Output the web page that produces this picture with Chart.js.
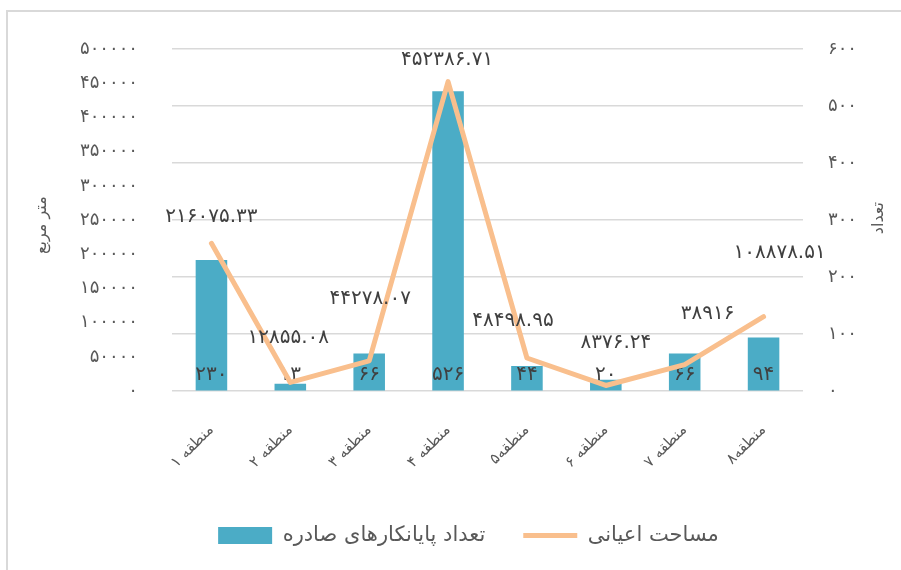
<!DOCTYPE html>
<html>
<head>
<meta charset="utf-8">
<script src="https://cdn.jsdelivr.net/npm/chart.js@4/dist/chart.umd.min.js"></script>
<style>
  html, body { margin: 0; padding: 0; background: #fff; overflow: hidden; }
  #wrap { position: absolute; left: 0; top: 0; width: 901px; height: 570px; }
</style>
</head>
<body>
<div id="wrap"><canvas id="c" width="901" height="570"></canvas></div>
<script>
// Regions
const regions = ['منطقه ۱', 'منطقه ۲', 'منطقه ۳', 'منطقه ۴', 'منطقه۵', 'منطقه ۶', 'منطقه ۷', 'منطقه۸'];
// Issued completion certificates (count, right axis)
const certificateCounts = [230, 13, 66, 526, 44, 20, 66, 94];
// Building area in square metres (left axis)
const buildingArea = [216075.33, 12855.08, 44278.07, 452386.71, 48498.95, 8376.24, 38916, 108878.51];

const seriesNames = ['تعداد پایانکارهای صادره', 'مساحت اعیانی'];
const leftAxisTitle = 'متر مربع';
const rightAxisTitle = 'تعداد';

// Nudges for the area labels, relative to each line vertex (dx, dy in px)
const areaLabelShift = [[0, -27], [-2, -45], [1, -62], [-1, -22], [-14, -37], [10, -43], [23, -51], [16, -64]];

const FONT = "'DejaVu Sans', sans-serif";
const faDigits = s => String(s).replace(/\d/g, d => '۰۱۲۳۴۵۶۷۸۹'[d]);

Chart.defaults.font.family = FONT;
Chart.defaults.color = '#595959';

const framePlugin = {
  id: 'frame',
  beforeDraw(chart) {
    const ctx = chart.ctx;
    ctx.save();
    ctx.fillStyle = '#ffffff';
    ctx.fillRect(0, 0, chart.width, chart.height);
    ctx.strokeStyle = '#d9d9d9';
    ctx.lineWidth = 2;
    ctx.strokeRect(7, 11, chart.width + 20, chart.height + 20);
    ctx.restore();
  }
};

// Legend row sits a little right of the canvas centre
const legendShiftPlugin = {
  id: 'legendShift',
  afterLayout(chart) {
    const lg = chart.legend;
    if (!lg) return;
    lg.left += 18;
    lg.right += 18;
    (lg.legendHitBoxes || []).forEach(b => { b.left += 18; });
  }
};

const axisTitlePlugin = {
  id: 'axisTitles',
  afterDraw(chart) {
    const ctx = chart.ctx;
    const mid = (chart.chartArea.top + chart.chartArea.bottom) / 2;
    ctx.save();
    ctx.fillStyle = '#595959';
    ctx.font = '16px ' + FONT;
    ctx.textAlign = 'center';
    ctx.textBaseline = 'middle';
    [[leftAxisTitle, 42, mid + 5], [rightAxisTitle, 879, mid - 2]].forEach(([t, x, y]) => {
      ctx.save();
      ctx.translate(x, y);
      ctx.rotate(-Math.PI / 2);
      ctx.fillText(t, 0, 0);
      ctx.restore();
    });
    ctx.restore();
  }
};

const valueLabelPlugin = {
  id: 'valueLabels',
  afterDatasetDraw(chart, args) {
    if (args.index !== 0) return;
    const ctx = chart.ctx;
    const meta = chart.getDatasetMeta(0);
    ctx.save();
    ctx.fillStyle = '#404040';
    ctx.font = '20px ' + FONT;
    ctx.textAlign = 'center';
    ctx.textBaseline = 'middle';
    meta.data.forEach((bar, i) => {
      ctx.fillText(faDigits(certificateCounts[i]), bar.x, chart.chartArea.bottom - 16);
    });
    ctx.restore();
  },
  afterDatasetsDraw(chart) {
    const ctx = chart.ctx;
    const meta = chart.getDatasetMeta(1);
    ctx.save();
    ctx.fillStyle = '#404040';
    ctx.font = '20px ' + FONT;
    ctx.textAlign = 'center';
    ctx.textBaseline = 'middle';
    meta.data.forEach((pt, i) => {
      const [dx, dy] = areaLabelShift[i];
      ctx.fillText(faDigits(buildingArea[i]), pt.x + dx, pt.y + dy);
    });
    ctx.restore();
  }
};

new Chart(document.getElementById('c'), {
  type: 'bar',
  data: {
    labels: regions,
    datasets: [
      {
        type: 'bar',
        label: seriesNames[0],
        data: certificateCounts,
        yAxisID: 'yR',
        backgroundColor: '#4BACC6',
        barPercentage: 0.4,
        categoryPercentage: 1,
        pointStyle: 'rect',
        order: 1
      },
      {
        type: 'line',
        label: seriesNames[1],
        data: buildingArea,
        yAxisID: 'yL',
        borderColor: '#F9BF8D',
        backgroundColor: '#F9BF8D',
        borderWidth: 5,
        borderCapStyle: 'round',
        borderJoinStyle: 'round',
        pointRadius: 0,
        pointStyle: 'line',
        tension: 0,
        order: 0
      }
    ]
  },
  options: {
    responsive: false,
    animation: false,
    layout: { padding: { top: 49, left: 0, right: 0, bottom: 14 } },
    plugins: {
      tooltip: { enabled: false },
      legend: {
        position: 'bottom',
        labels: {
          usePointStyle: true,
          pointStyleWidth: 54,
          boxHeight: 17,
          padding: 38,
          color: '#595959',
          font: { size: 21, family: FONT },
          sort: (a, b) => a.datasetIndex - b.datasetIndex
        }
      }
    },
    scales: {
      x: {
        offset: true,
        grid: { display: false },
        border: { display: false },
        ticks: {
          minRotation: 45,
          maxRotation: 45,
          padding: 22,
          labelOffset: 0,
          color: '#595959',
          font: { size: 15 }
        },
        afterFit(scale) { scale.height = 95.8; }
      },
      yL: {
        position: 'left',
        min: 0,
        max: 500000,
        grid: { display: false },
        border: { display: false },
        ticks: {
          stepSize: 50000,
          padding: 26,
          color: '#595959',
          font: { size: 18 },
          callback: v => faDigits(v)
        },
        afterFit(scale) { scale.width = 172; }
      },
      yR: {
        position: 'right',
        min: 0,
        max: 600,
        grid: { color: '#d9d9d9', lineWidth: 1.5, drawTicks: false },
        border: { display: false },
        ticks: {
          stepSize: 100,
          padding: 25,
          color: '#595959',
          font: { size: 18 },
          callback: v => faDigits(v)
        },
        afterFit(scale) { scale.width = 98; }
      }
    }
  },
  plugins: [framePlugin, legendShiftPlugin, valueLabelPlugin, axisTitlePlugin]
});
</script>
</body>
</html>
